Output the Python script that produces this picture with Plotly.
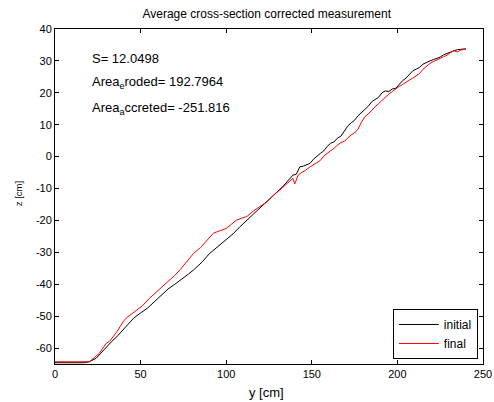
import plotly.graph_objects as go

# initial (black) profile
y_initial = [0, 17, 20, 24, 27, 30, 33, 36, 39, 42, 46, 50, 54, 58, 62, 66, 70, 74, 78, 81,
             86, 90, 95, 100, 104, 108, 112, 116, 120, 124, 126, 130, 133, 136, 139, 141, 142, 143,
             145, 147, 149, 151, 153, 155, 157, 159, 161, 163, 165, 167, 169, 171, 173, 175, 177,
             179, 181, 183, 185, 187, 189, 191, 193, 195, 197, 199, 201, 203, 205, 207, 209, 211,
             213, 215, 217, 219, 221, 223, 225, 227, 229, 231, 233, 235, 237, 239, 240]
z_initial = [-64.6, -64.6, -64.3, -63.2, -61.5, -59.6, -58.0, -56.5, -54.8, -52.8, -50.6, -49.0,
             -47.5, -45.5, -43.5, -41.5, -40.0, -38.5, -36.8, -35.5, -33.0, -30.5, -28.3, -26.1,
             -24.2, -22.0, -20.0, -17.8, -15.9, -14.0, -13.0, -11.0, -9.4, -7.6, -5.8, -5.5, -4.2,
             -3.2, -3.0, -2.6, -2.1, -0.8, 0.2, 1.0, 1.8, 3.2, 4.2, 4.6, 5.8, 6.4, 8.0, 9.6, 10.6,
             11.4, 12.8, 13.8, 14.6, 15.8, 17.2, 17.8, 18.6, 20.0, 20.6, 20.4, 21.2, 21.4, 22.6,
             23.8, 24.6, 25.8, 26.9, 27.4, 28.0, 29.0, 29.6, 30.0, 30.4, 30.8, 31.2, 31.9, 32.4,
             32.8, 33.2, 33.5, 33.6, 33.9, 33.8]

# final (red) profile
y_final = [0, 20, 23, 26, 28, 30, 32, 34, 36, 38, 40, 42, 45, 48, 51, 55, 59, 63, 67, 70, 73,
           77, 81, 85, 89, 92.5, 96, 100, 103, 106, 109, 112, 116, 120, 124, 128, 131, 134, 137,
           139, 140, 141, 142, 144, 146, 149, 152, 155, 157, 159, 161, 163, 165, 167, 169, 171,
           173, 175, 177, 179, 181, 183, 185, 187, 189, 191, 193, 195, 197, 199, 201, 203, 205,
           207, 209, 211, 213, 215, 217, 219, 221, 223, 225, 227, 229, 231, 233, 235, 237, 239, 240]
z_final = [-64.3, -64.3, -63.0, -61.6, -60.0, -58.5, -57.8, -56.5, -55.0, -53.3, -51.6, -50.4,
           -49.2, -48.1, -46.8, -44.5, -42.6, -40.6, -38.7, -37.2, -35.5, -33.0, -30.3, -28.5,
           -26.0, -24.0, -23.3, -22.5, -21.2, -19.9, -19.3, -18.8, -17.0, -15.6, -14.1, -12.0,
           -10.5, -9.2, -7.8, -6.8, -8.6, -7.0, -5.8, -5.0, -4.4, -3.2, -2.2, -1.2, 0.2, 1.0, 1.6,
           2.6, 3.6, 4.4, 4.8, 5.8, 6.8, 7.4, 8.6, 10.8, 12.5, 13.4, 14.6, 15.6, 16.6, 17.6, 18.8,
           19.6, 20.4, 21.3, 22.0, 22.6, 23.4, 24.0, 24.6, 25.4, 26.1, 27.4, 28.4, 29.2, 29.8,
           30.2, 30.8, 31.3, 31.8, 32.6, 33.2, 32.8, 33.4, 33.7, 33.5]

x_ticks = [0, 50, 100, 150, 200, 250]
x_ticklabels = ["0", "50", "100", "150", "200", "250"]
z_ticks = [-60, -50, -40, -30, -20, -10, 0, 10, 20, 30, 40]
z_ticklabels = ["-60", "-50", "-40", "-30", "-20", "-10", "0", "10", "20", "30", "40"]

info_lines = ["S= 12.0498",
              "Area<sub>e</sub>roded= 192.7964",
              "Area<sub>a</sub>ccreted= -251.816"]

FONT = "Liberation Sans, Arial, sans-serif"

fig = go.Figure()
fig.add_trace(go.Scatter(x=y_initial, y=z_initial, mode="lines", name="initial",
                         line=dict(color="black", width=1)))
fig.add_trace(go.Scatter(x=y_final, y=z_final, mode="lines", name="final",
                         line=dict(color="red", width=1)))

axis_common = dict(showgrid=False, zeroline=False, showline=True, linecolor="black",
                   linewidth=1, mirror="ticks", ticks="inside", ticklen=4,
                   tickcolor="black", automargin=False,
                   tickfont=dict(family=FONT, size=11, color="black"))

fig.update_xaxes(range=[0, 250], tickvals=x_ticks, ticktext=x_ticklabels, **axis_common)
fig.update_yaxes(range=[-65, 40], tickvals=z_ticks, ticktext=z_ticklabels, **axis_common)

# axis titles
fig.add_annotation(x=0.493, y=-0.0836, xref="paper", yref="paper", text="y [cm]",
                   showarrow=False, xanchor="center", yanchor="middle",
                   font=dict(family=FONT, size=13, color="black"))
fig.add_annotation(x=-0.0864, y=0.507, xref="paper", yref="paper", text="z [cm]",
                   showarrow=False, xanchor="center", yanchor="middle", textangle=-90,
                   font=dict(family=FONT, size=9.5, color="black"))

ann_y = [0.913, 0.839, 0.764]
for txt, yy in zip(info_lines, ann_y):
    fig.add_annotation(x=0.082, y=yy, xref="paper", yref="paper", text=txt,
                       showarrow=False, xanchor="left", yanchor="middle",
                       font=dict(family=FONT, size=13, color="black"))

fig.update_layout(
    width=494, height=402,
    margin=dict(l=55, r=11, t=29, b=38),
    paper_bgcolor="white", plot_bgcolor="white",
    title=dict(text="Average cross-section corrected measurement", x=0.54, xanchor="center",
               y=0.966, yanchor="middle",
               font=dict(family=FONT, size=12, color="black")),
    legend=dict(x=0.988, y=0.015, xanchor="right", yanchor="bottom",
                bgcolor="white", bordercolor="black", borderwidth=1,
                font=dict(family=FONT, size=12, color="black"),
                itemwidth=40, tracegroupgap=0),
    showlegend=True,
)

fig.write_html("out.html",
               config={"displayModeBar": False},
               post_script="document.body.style.margin='0px';"
                           "document.body.style.overflow='hidden';")
